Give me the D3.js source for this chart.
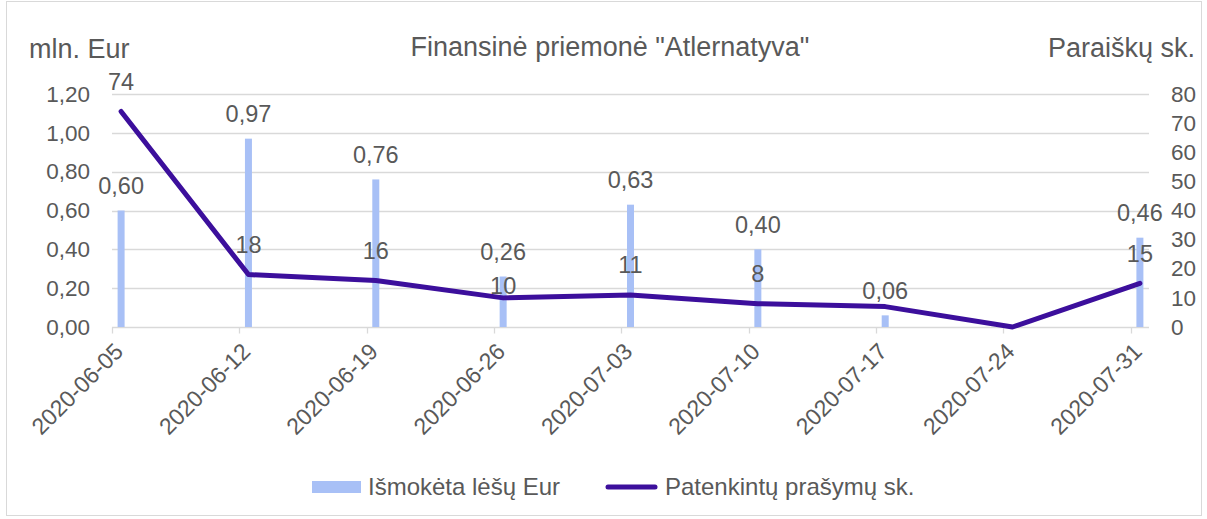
<!DOCTYPE html>
<html><head><meta charset="utf-8">
<script src="https://cdn.jsdelivr.net/npm/d3@7"></script>
<style>body{margin:0;background:#fff}svg text{font-family:"Liberation Sans",Arial,sans-serif;fill:#595959}</style>
</head><body>
<svg id="c" width="1207" height="519"></svg>
<script>
const categories = ["2020-06-05","2020-06-12","2020-06-19","2020-06-26","2020-07-03","2020-07-10","2020-07-17","2020-07-24","2020-07-31"];
const paid = [0.60, 0.97, 0.76, 0.26, 0.63, 0.40, 0.06, null, 0.46];
const approved = [74, 18, 16, 10, 11, 8, 7, 0, 15];
const approvedLabelShown = [true, true, true, true, true, true, false, false, true];
const leftTicks = [0, 0.2, 0.4, 0.6, 0.8, 1.0, 1.2];
const rightTicks = [0, 10, 20, 30, 40, 50, 60, 70, 80];
const title = 'Finansinė priemonė "Atlernatyva"';
const leftTitle = "mln. Eur";
const rightTitle = "Paraiškų sk.";
const seriesNames = ["Išmokėta lėšų Eur", "Patenkintų prašymų sk."];

const svg = d3.select("#c");
const barColor = "#a8c0f6", lineColor = "#3c0f9c", gridColor = "#d9d9d9";
const fmt = v => d3.format(".2f")(v).replace(".", ",");
const parse = d3.utcParse("%Y-%m-%d");
const dates = categories.map(parse);
const dayMs = 864e5;
const x = d3.scaleUtc().domain([dates[0], new Date(+dates[dates.length-1] + dayMs)]).range([112, 1149]);
const cx = d => x(new Date(+d + dayMs/2));
const yL = d3.scaleLinear().domain([0, 1.2]).range([327, 94]);
const yR = d3.scaleLinear().domain([0, 80]).range([327, 94]);

svg.append("rect").attr("x",6.5).attr("y",1.5).attr("width",1195).attr("height",514).attr("fill","none").attr("stroke",gridColor);

// gridlines
svg.append("g").selectAll("line").data(leftTicks.slice(1)).join("line")
  .attr("x1",112).attr("x2",1149).attr("y1",d=>Math.round(yL(d))+0.5).attr("y2",d=>Math.round(yL(d))+0.5)
  .attr("stroke",gridColor).attr("stroke-width",1.3);

// left axis
const gl = svg.append("g").attr("transform","translate(112,0)")
  .call(d3.axisLeft(yL).tickValues(leftTicks).tickFormat(fmt).tickSize(0).tickPadding(22));
gl.select(".domain").remove();
gl.selectAll("text").style("font-size","22.5px").attr("fill","#595959");
// right axis
const gr = svg.append("g").attr("transform","translate(1149,0)")
  .call(d3.axisRight(yR).tickValues(rightTicks).tickSize(0).tickPadding(22));
gr.select(".domain").remove();
gr.selectAll("text").style("font-size","22.5px").attr("fill","#595959");

// x axis
const gx = svg.append("g").attr("transform","translate(0,327.5)");
gx.append("line").attr("x1",112).attr("x2",1149).attr("stroke",gridColor).attr("stroke-width",1.3);
gx.selectAll("line.t").data(dates).join("line").attr("class","t")
  .attr("x1",d=>Math.round(x(d))+0.5).attr("x2",d=>Math.round(x(d))+0.5).attr("y1",0).attr("y2",6)
  .attr("stroke",gridColor).attr("stroke-width",1.3);
gx.selectAll("text").data(categories).join("text")
  .attr("transform",(c,i)=>`translate(${cx(dates[i])-8},14) rotate(-45)`)
  .attr("text-anchor","end").attr("dy","0.7em").style("font-size","23px").text(c=>c);

// bars
const bw = 7;
const barData = categories.map((c,i)=>({d:dates[i], v:paid[i]})).filter(o=>o.v!==null);
svg.append("g").selectAll("rect").data(barData).join("rect")
  .attr("x",o=>cx(o.d)-bw/2).attr("width",bw).attr("y",o=>yL(o.v)).attr("height",o=>yL(0)-yL(o.v))
  .attr("fill",barColor);

// line
const lineData = categories.map((c,i)=>({d:dates[i], v:approved[i], show:approvedLabelShown[i], bar:paid[i]}));
svg.append("path").datum(lineData)
  .attr("d", d3.line().x(o=>cx(o.d)).y(o=>yR(o.v)))
  .attr("fill","none").attr("stroke",lineColor).attr("stroke-width",5).attr("stroke-linejoin","round").attr("stroke-linecap","round");

// bar labels
svg.append("g").selectAll("text").data(barData).join("text")
  .attr("x",o=>cx(o.d)).attr("y",o=>yL(o.v)-25).attr("dy","0.35em").attr("text-anchor","middle")
  .style("font-size","23.5px").text(o=>fmt(o.v));
// line labels
svg.append("g").selectAll("text").data(lineData.filter(o=>o.show)).join("text")
  .attr("x",o=>cx(o.d)).attr("y",o=>{
    let ly = yR(o.v)-30;
    if (o.bar!==null){ const by = yL(o.bar)-25; if (Math.abs(ly-by)<22) ly = by+34; }
    return ly;
  }).attr("dy","0.35em").attr("text-anchor","middle").style("font-size","23.5px").text(o=>o.v);

// titles
svg.append("text").attr("x",610).attr("y",47).attr("dy","0.35em").attr("text-anchor","middle").style("font-size","27px").text(title);
svg.append("text").attr("x",29).attr("y",49).attr("dy","0.35em").style("font-size","27px").text(leftTitle);
svg.append("text").attr("x",1195).attr("y",48).attr("dy","0.35em").attr("text-anchor","end").style("font-size","27px").text(rightTitle);

// legend
const lg = svg.append("g");
lg.append("rect").attr("x",312).attr("y",481).attr("width",49).attr("height",12).attr("fill",barColor);
lg.append("text").attr("x",368).attr("y",487).attr("dy","0.35em").style("font-size","24px").text(seriesNames[0]);
lg.append("line").attr("x1",608).attr("x2",655).attr("y1",487).attr("y2",487).attr("stroke",lineColor).attr("stroke-width",5).attr("stroke-linecap","round");
lg.append("text").attr("x",665).attr("y",487).attr("dy","0.35em").style("font-size","24px").text(seriesNames[1]);
</script>
</body></html>
